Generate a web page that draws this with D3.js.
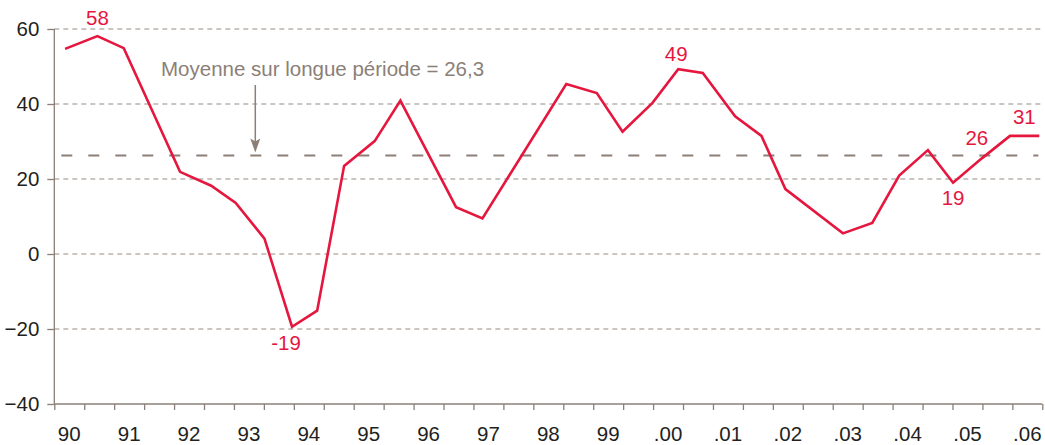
<!DOCTYPE html>
<html>
<head>
<meta charset="utf-8">
<script src="https://cdnjs.cloudflare.com/ajax/libs/d3/7.8.5/d3.min.js"></script>
<style>
  body { margin: 0; background: #fff; }
  svg text { font-family: "Liberation Sans", Arial, sans-serif; }
</style>
</head>
<body>
<div id="graph"></div>
<script>
// dates (decimal years) and values of the series
var dates = [1990.18, 1990.72, 1991.16, 1992.10, 1992.62, 1993.03, 1993.51, 1993.97, 1994.39, 1994.84,
             1995.35, 1995.78, 1996.71, 1997.15, 1998.55, 1999.06, 1999.49, 1999.99, 2000.42, 2000.83,
             2001.37, 2001.81, 2002.21, 2003.17, 2003.66, 2004.11, 2004.59, 2005.01, 2005.49, 2005.96, 2006.45];
var values = [54.7, 58.1, 54.9, 21.9, 18.2, 13.6, 4.1, -19.4, -15.1, 23.5,
              30.1, 40.9, 12.5, 9.5, 45.3, 42.9, 32.6, 40.3, 49.3, 48.3,
              36.7, 31.5, 17.3, 5.5, 8.3, 20.9, 27.7, 19.0, 25.5, 31.5, 31.5];

// year labels of the x axis, one per year (first half-year category)
var years = ["90", "91", "92", "93", "94", "95", "96", "97", "98", "99",
             ".00", ".01", ".02", ".03", ".04", ".05", ".06"];
var yTicks = [-40, -20, 0, 20, 40, 60];

var longRunMean = 26.3;
var meanText = "Moyenne sur longue période = 26,3";

// labelled points: index in the series and text
var pointLabels = [
  {i: 1, text: "58"},
  {i: 7, text: "-19"},
  {i: 18, text: "49"},
  {i: 27, text: "19"},
  {i: 28, text: "26"},
  {i: 30, text: "31"}
];

function draw() {
    var width = 1045, height = 445;
    var left = 54.3, right = 1042.3, top = 29, bottom = 404;

    // 33 half-year categories: 1990 H1 ... 2006 H1
    var xScale = d3.scaleLinear()
        .domain([1990, 2006.5])
        .range([left, right]);

    var yScale = d3.scaleLinear()
        .domain([-40, 60])
        .range([bottom, top]);

    var red = "#e5173f", gray = "#8b7f78";

    var svg = d3.select("div#graph").append("svg")
        .attr("width", width)
        .attr("height", height);

    // horizontal grid
    svg.append("g")
        .selectAll("line")
        .data(yTicks.filter(function(d) { return d > -40; }))
        .enter().append("line")
        .attr("x1", left)
        .attr("x2", right)
        .attr("y1", function(d) { return yScale(d); })
        .attr("y2", function(d) { return yScale(d); })
        .attr("stroke", "#bbb3ae")
        .attr("stroke-width", 1.3)
        .attr("stroke-dasharray", "5,4");

    // y axis
    var yAxis = svg.append("g")
        .attr("transform", "translate(" + left + ",0)")
        .call(d3.axisLeft(yScale).tickValues(yTicks).tickSize(7).tickPadding(8));
    yAxis.select(".domain").attr("stroke", gray).attr("stroke-width", 1.3).attr("d", "M0," + top + "V" + bottom);
    yAxis.selectAll(".tick line").attr("stroke", gray).attr("stroke-width", 1.3);
    yAxis.selectAll(".tick text").attr("fill", "#231f20").style("font-size", "20.5px");

    // x axis: ticks at the half-year boundaries, labels on the first half of each year
    var xAxis = svg.append("g")
        .attr("transform", "translate(0," + bottom + ")")
        .call(d3.axisBottom(xScale).tickValues(d3.range(1990, 2006.51, 0.5)).tickSize(6).tickFormat(""));
    xAxis.select(".domain").attr("stroke", gray).attr("stroke-width", 1.3).attr("d", "M" + left + ",0H" + right);
    xAxis.selectAll(".tick line").attr("stroke", gray).attr("stroke-width", 1.3);

    svg.append("g")
        .selectAll("text")
        .data(years)
        .enter().append("text")
        .attr("x", function(d, i) { return xScale(1990 + i + 0.25); })
        .attr("y", 441)
        .attr("text-anchor", "middle")
        .attr("fill", "#231f20")
        .style("font-size", "20.5px")
        .text(function(d) { return d; });

    // long-run average
    svg.append("line")
        .attr("x1", left + 7)
        .attr("x2", right - 4)
        .attr("y1", yScale(longRunMean))
        .attr("y2", yScale(longRunMean))
        .attr("stroke", gray)
        .attr("stroke-width", 2)
        .attr("stroke-dasharray", "11,16");

    svg.append("text")
        .attr("x", 161)
        .attr("y", 76)
        .attr("fill", gray)
        .style("font-size", "20.5px")
        .text(meanText);

    // arrow pointing at the average line
    var ax = 255.3, tip = yScale(longRunMean) - 3;
    svg.append("line")
        .attr("x1", ax).attr("x2", ax)
        .attr("y1", 85).attr("y2", tip - 8)
        .attr("stroke", gray)
        .attr("stroke-width", 1.5);
    svg.append("path")
        .attr("d", "M" + (ax - 5) + "," + (tip - 14) + "L" + ax + "," + (tip - 11) + "L" + (ax + 5) + "," + (tip - 14) + "L" + ax + "," + tip + "Z")
        .attr("fill", gray);

    // the series
    var dataset = dates.map(function(d, i) { return {x: d, y: values[i]}; });
    var line = d3.line()
        .x(function(d) { return xScale(d.x); })
        .y(function(d) { return yScale(d.y); });

    svg.append("path")
        .datum(dataset)
        .attr("fill", "none")
        .attr("stroke", red)
        .attr("stroke-width", 2.6)
        .attr("stroke-linejoin", "miter")
        .attr("d", line);

    // label offsets from their point
    var offsets = {"58": [0, -11], "-19": [-6, 23], "49": [-2, -8], "19": [0, 22], "26": [-5, -13], "31": [-15, -12]};

    svg.append("g")
        .selectAll("text")
        .data(pointLabels)
        .enter().append("text")
        .attr("x", function(d) { return xScale(dates[d.i]) + offsets[d.text][0]; })
        .attr("y", function(d) { return yScale(values[d.i]) + offsets[d.text][1]; })
        .attr("text-anchor", "middle")
        .attr("fill", red)
        .style("font-size", "20.5px")
        .text(function(d) { return d.text; });
}

draw();
</script>
</body>
</html>
